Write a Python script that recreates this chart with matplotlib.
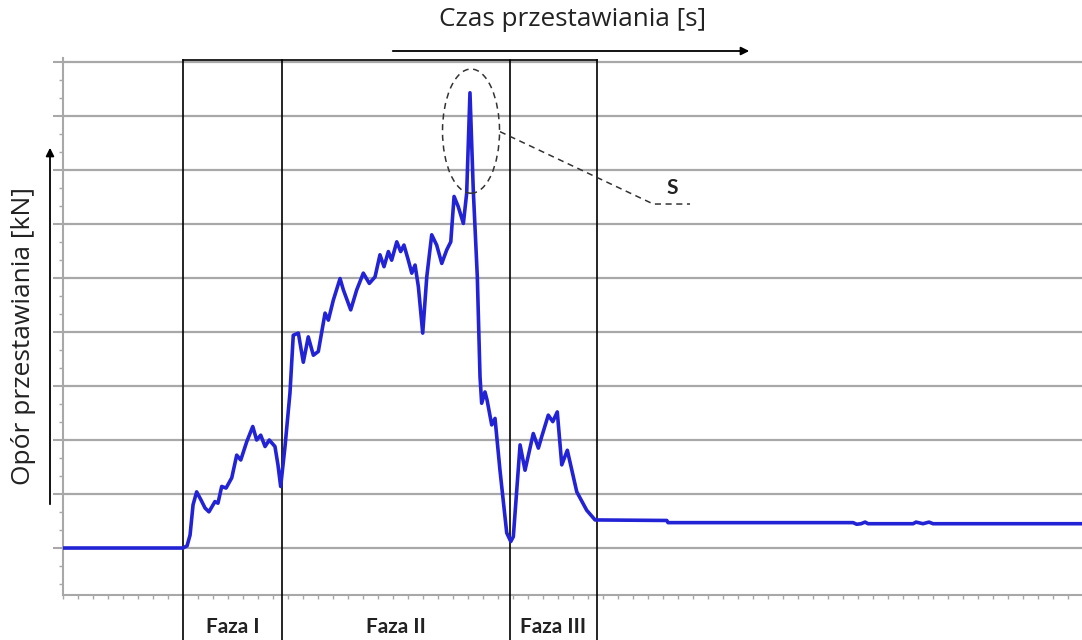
import matplotlib
matplotlib.use("Agg")
import matplotlib.pyplot as plt
from matplotlib.patches import Ellipse, FancyArrowPatch
from matplotlib.ticker import MultipleLocator, NullFormatter

plt.rcParams['font.family'] = ['Open Sans', 'DejaVu Sans']

# Switching resistance trace: time (tick units) and force (grid units, kN)
time_s = [0.0, 8.0, 8.27, 8.47, 8.67, 8.91, 9.2, 9.47, 9.73, 10.13, 10.33, 10.58,
          10.87, 11.25, 11.58, 11.85, 12.25, 12.65, 12.91, 13.18, 13.47, 13.75,
          14.13, 14.33, 14.51, 14.8, 15.13, 15.35, 15.69, 16.02, 16.35, 16.69,
          17.02, 17.47, 17.69, 18.02, 18.47, 18.69, 19.18, 19.58, 20.02, 20.42,
          20.8, 21.13, 21.4, 21.69, 21.91, 22.25, 22.51, 22.73, 23.02, 23.25,
          23.47, 23.69, 23.98, 24.25, 24.58, 24.91, 25.25, 25.58, 25.85, 26.07,
          26.35, 26.69, 26.91, 27.13, 27.35, 27.62, 27.8, 27.91, 28.13, 28.27,
          28.58, 28.8, 29.13, 29.58, 29.85, 30.02, 30.47, 30.8, 31.35, 31.69,
          31.91, 32.35, 32.65, 32.95, 33.25, 33.62, 34.25, 34.91, 35.47, 40.25,
          40.33, 52.67, 52.91, 53.2, 53.47, 53.67, 56.67, 56.87, 57.33, 57.73,
          58.0, 67.93]
force_kn = [0.0, 0.0, 0.04, 0.24, 0.80, 1.04, 0.89, 0.74, 0.67, 0.86, 0.83, 1.14,
            1.11, 1.30, 1.72, 1.63, 1.97, 2.25, 2.00, 2.09, 1.88, 2.00,
            1.88, 1.54, 1.14, 1.88, 2.87, 3.94, 3.98, 3.44, 3.91, 3.57,
            3.64, 4.35, 4.22, 4.59, 4.99, 4.78, 4.41, 4.78, 5.09, 4.90,
            5.02, 5.43, 5.21, 5.49, 5.33, 5.67, 5.49, 5.61, 5.33, 5.09,
            5.24, 4.84, 3.98, 5.02, 5.80, 5.61, 5.27, 5.52, 5.67, 6.51,
            6.32, 6.01, 6.57, 8.43, 6.63, 5.02, 3.17, 2.68, 2.89, 2.74,
            2.28, 2.40, 1.44, 0.28, 0.12, 0.21, 1.91, 1.44, 2.12, 1.85,
            2.06, 2.46, 2.34, 2.52, 1.54, 1.81, 1.04, 0.70, 0.52, 0.51,
            0.47, 0.47, 0.44, 0.45, 0.48, 0.45, 0.45, 0.48, 0.45, 0.48,
            0.45, 0.45]

# Phase boundaries and labels
phase_edges = [8.0, 14.6, 29.8, 35.6]
phase_labels = ["Faza I", "Faza II", "Faza III"]
phase_label_x = [11.3, 22.2, 32.7]

# Peak marker
peak_center = (27.2, 7.72)
peak_size = (3.8, 2.30)
leader_x = [29.13, 39.35, 41.8]
leader_y = [7.71, 6.37, 6.37]

fig = plt.figure(figsize=(10.82, 6.40), dpi=100)
ax = fig.add_axes([63 / 1082, 45 / 640, 1019 / 1082, 537 / 640])
ax.set_xlim(0, 67.93)
ax.set_ylim(-0.87, 9.074)

grid_col = "#a8a8a8"
ax.yaxis.set_major_locator(MultipleLocator(1))
ax.yaxis.set_minor_locator(MultipleLocator(1 / 3))
ax.xaxis.set_major_locator(MultipleLocator(1))
ax.xaxis.set_major_formatter(NullFormatter())
ax.yaxis.set_major_formatter(NullFormatter())
ax.tick_params(axis='y', which='major', direction='out', length=7, width=1.5, color=grid_col)
ax.tick_params(axis='y', which='minor', direction='out', length=3, width=1, color=grid_col)
ax.tick_params(axis='x', which='major', direction='out', length=3, width=1, color=grid_col)
ax.grid(axis='y', which='major', color=grid_col, lw=1.6, zorder=0)
ax.set_axisbelow(True)
for side in ("top", "right"):
    ax.spines[side].set_visible(False)
for side in ("left", "bottom"):
    ax.spines[side].set_color(grid_col)
    ax.spines[side].set_linewidth(1.5)

ax.plot(time_s, force_kn, color="#2323d6", lw=2.6, solid_joinstyle='round', zorder=4)

# Phase boxes
box_top = 9.04
box_bottom = -1.75
for xe in phase_edges:
    ax.plot([xe, xe], [box_bottom, box_top], color="black", lw=1.2, clip_on=False, zorder=3)
ax.plot([phase_edges[0], phase_edges[-1]], [box_top, box_top], color="black", lw=1.2,
        clip_on=False, zorder=3)
for lx, lab in zip(phase_label_x, phase_labels):
    ax.text(lx, -1.46, lab, ha='center', va='center', fontsize=15, fontweight='bold',
            family=['Lato', 'DejaVu Sans'], color="#222222", clip_on=False)

# Peak annotation
ax.add_patch(Ellipse(peak_center, peak_size[0], peak_size[1], fill=False, ls=(0, (4, 3)),
                     lw=1.1, ec="#333333", zorder=5))
ax.plot(leader_x, leader_y, ls=(0, (4, 3)), lw=1.1, color="#333333", zorder=5)
ax.text(40.6, 6.67, "S", ha='center', va='center', fontsize=15, fontweight='bold',
        family=['Lato', 'DejaVu Sans'], color="#222222")

# Axis direction arrows and titles
fig.text(573 / 1082, 1 - 26 / 640, "Czas przestawiania [s]", ha='center', va='baseline',
         fontsize=18.8, color="#222222")
fig.add_artist(FancyArrowPatch(
    (390 / 1082, 1 - 51 / 640), (752 / 1082, 1 - 51 / 640), transform=fig.transFigure,
    arrowstyle='-|>', mutation_scale=12, lw=1.3, color="black"))
fig.text(24 / 1082, 1 - 336 / 640, "Opór przestawiania [kN]", ha='center', va='center',
         rotation=90, fontsize=19, color="#222222")
fig.add_artist(FancyArrowPatch(
    (50 / 1082, 1 - 507 / 640), (50 / 1082, 1 - 145 / 640), transform=fig.transFigure,
    arrowstyle='-|>', mutation_scale=12, lw=1.3, color="black"))

fig.savefig("out.png", dpi=100)
